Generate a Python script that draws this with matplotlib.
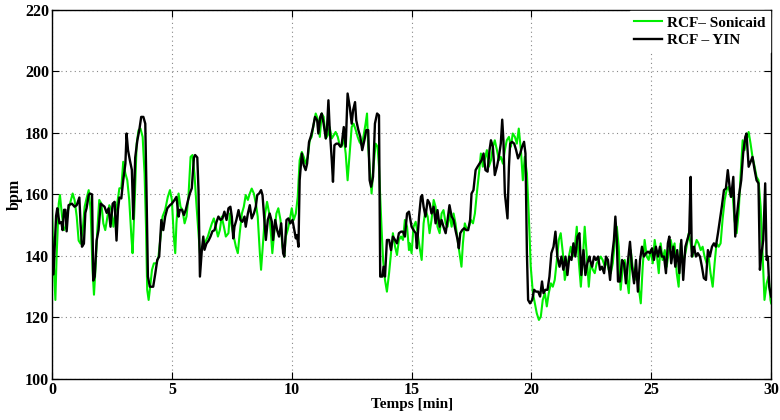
import numpy as np
import matplotlib
matplotlib.use("Agg")
import matplotlib.pyplot as plt

plt.rcParams['font.family'] = ['Liberation Serif', 'DejaVu Serif']
plt.rcParams['font.weight'] = 'bold'

# RCF - YIN (black)
t_yin = [0.00, 0.06, 0.17, 0.22, 0.31, 0.39, 0.44, 0.50, 0.56, 0.61, 0.69, 0.83, 0.94, 1.03, 1.14, 1.19, 1.25, 1.33, 1.39, 1.44,
         1.53, 1.58, 1.67, 1.72, 1.78, 1.86, 1.94, 2.03, 2.11, 2.19, 2.28, 2.36, 2.44, 2.53, 2.61, 2.69, 2.75, 2.81, 2.89, 2.97,
         3.06, 3.11, 3.17, 3.25, 3.33, 3.39, 3.47, 3.56, 3.64, 3.72, 3.81, 3.89, 3.94, 4.00, 4.08, 4.22, 4.31, 4.39, 4.47, 4.56,
         4.64, 4.72, 4.81, 4.92, 5.00, 5.11, 5.19, 5.28, 5.33, 5.42, 5.50, 5.58, 5.67, 5.75, 5.83, 5.92, 5.97, 6.06, 6.11, 6.17,
         6.25, 6.31, 6.36, 6.44, 6.53, 6.61, 6.69, 6.78, 6.86, 6.94, 7.03, 7.11, 7.19, 7.28, 7.36,
         7.44, 7.50, 7.56, 7.61, 7.69, 7.78, 7.86, 7.94, 8.03, 8.08, 8.17, 8.25, 8.33, 8.42, 8.50, 8.56, 8.64, 8.72, 8.78, 8.86,
         8.92, 9.00, 9.08, 9.17, 9.22, 9.31, 9.39, 9.47, 9.56, 9.64, 9.69, 9.78, 9.86, 9.94, 10.03, 10.08, 10.17, 10.22, 10.28, 10.33,
         10.42, 10.50, 10.58, 10.64, 10.72, 10.81, 10.89, 10.97, 11.06, 11.11, 11.19, 11.25, 11.33, 11.42, 11.47, 11.53, 11.58, 11.67, 11.72, 11.78,
         11.86, 11.94, 12.03, 12.08, 12.17, 12.25, 12.33, 12.42, 12.50, 12.56, 12.64, 12.69, 12.78, 12.86, 12.94, 13.03, 13.11, 13.19, 13.25, 13.31,
         13.39, 13.47, 13.56, 13.64, 13.69, 13.78, 13.83, 13.89, 13.97, 14.06, 14.14, 14.22, 14.31, 14.39, 14.47, 14.56, 14.64, 14.72, 14.81, 14.89,
         15.00, 15.08, 15.17, 15.22, 15.31, 15.39, 15.44, 15.50, 15.58, 15.67, 15.75, 15.83, 15.92, 16.00, 16.08, 16.17, 16.25, 16.33, 16.42, 16.50,
         16.58, 16.67, 16.75, 16.83, 16.92, 16.97, 17.03, 17.11, 17.19, 17.28, 17.36, 17.44, 17.50, 17.58, 17.67, 17.75, 17.83, 17.92, 18.00, 18.08,
         18.17, 18.25, 18.31, 18.39, 18.47, 18.56, 18.64, 18.72, 18.78, 18.83, 18.89, 18.94, 19.00, 19.06, 19.11, 19.19, 19.28, 19.36, 19.44, 19.53,
         19.61, 19.69, 19.75, 19.81, 19.86, 19.94, 20.03, 20.11, 20.19, 20.28, 20.36, 20.44, 20.50, 20.58, 20.67, 20.75, 20.83, 20.92, 21.00, 21.08,
         21.17, 21.25, 21.33, 21.42, 21.50, 21.58, 21.67, 21.75, 21.83, 21.92, 22.00, 22.08, 22.17, 22.25, 22.33, 22.42,
         22.44, 22.53, 22.61, 22.69, 22.78, 22.86, 22.94, 23.03, 23.11, 23.19, 23.28, 23.36, 23.44, 23.50, 23.56, 23.61, 23.69, 23.78, 23.86, 23.94,
         24.03, 24.11, 24.19, 24.28, 24.36, 24.44, 24.53, 24.61, 24.69, 24.78, 24.86, 24.94, 25.03, 25.11, 25.19, 25.28, 25.36, 25.44, 25.53, 25.61,
         25.69, 25.75, 25.83, 25.92, 26.00, 26.08, 26.17, 26.25, 26.33, 26.42, 26.50, 26.58, 26.64, 26.69, 26.78, 26.86, 26.94, 27.03, 27.11, 27.19,
         27.28, 27.36, 27.44, 27.53, 27.61, 27.69, 27.78, 27.86, 27.94, 28.03, 28.11, 28.19, 28.28, 28.33, 28.42, 28.50, 28.58, 28.67, 28.75, 28.83,
         28.92, 28.97, 29.06, 29.14, 29.22, 29.31, 29.39, 29.47, 29.53, 29.58, 29.67, 29.75, 29.81, 29.86, 29.92, 30.00]
bpm_yin = [146, 134, 153, 155.5, 150.6, 151, 148.4, 155, 155, 148, 156.5, 157, 156, 156.5, 159, 150.6, 143, 144, 154, 155.5,
           159.8, 160.3, 160, 132, 133.3, 145, 148.4, 157, 156.5, 156, 154, 155.5, 149.5, 157, 157.6, 145, 155, 159, 158.7, 164.6,
           170, 179.8, 174.4, 171, 168, 152, 172, 177.6, 180.9, 185.2, 185.2, 183, 161.4, 133.3, 130, 130, 134.4, 138.7, 139.8, 151.7,
           148.4, 152.8, 155.5, 156.5, 157, 158.2, 159.2, 152.8, 155, 155, 153.3, 155, 158, 160.3, 162, 172, 172.8, 172, 161.4, 133.3,
           142, 146.3, 142, 144, 145, 146.3, 148, 148.4, 151, 152.8, 151.7, 152.2, 154.4, 151.7, 155.5,
           156, 152.8, 145.7, 149.5, 151.7, 154.9, 151.7, 151.1, 152.8, 149.5, 153.8, 156.5, 152.2, 153.8, 156, 159.8, 160.3, 161.4, 159.8, 151.7,
           145.2, 151.7, 153.8, 151.1, 145.2, 151.7, 148.4, 146.3, 150.6, 140.9, 139.8, 151.7, 152.2, 150.6, 151.7, 149.5, 145.7, 146.8, 143, 164.6,
           173.3, 169.5, 167.9, 170, 177, 179.2, 181.9, 185.2, 184.1, 179.8, 185.2, 186.3, 183, 178.2, 181.4, 190.6, 181.9, 171.1, 164.1, 176,
           176.5, 176.5, 175.5, 176, 181.9, 175.5, 192.8, 188.4, 183, 187.4, 190, 184.1, 180.9, 178.7, 174.4, 177.6, 180.9, 180.9, 164.6, 162.5,
           165.7, 183, 186.3, 185.7, 133.3, 133.3, 136.5, 133.3, 145.2, 145.2, 141.9, 146.3, 145.2, 144.1, 147.4, 147.9, 147.9, 146.3, 153.8, 154.4,
           149.5, 148.4, 147.4, 142.5, 152.8, 159.2, 159.8, 156, 152.8, 158.2, 157.1, 153.8, 156, 150.6, 154.9, 149.5, 151.7, 149.5, 147.4, 151.7,
           156.5, 152.8, 151.7, 148.4, 145.2, 142.5, 147.4, 148.4, 149, 148.4, 148.4, 151.7, 160.3, 161.4, 167.9, 169, 170, 171.1, 173.3, 167.9,
           167.4, 174.4, 177.6, 175.5, 166.3, 169, 172.2, 176.5, 184.3, 177.6, 160.3, 156.5, 152.2, 169, 176.5, 177.1, 176.5, 174.4, 171.7, 173.3,
           175.5, 177.1, 173.3, 140.9, 125.7, 124.6, 125.7, 129, 128.4, 128.4, 126.8, 131.7, 127.9, 129, 129, 133.3, 140.9, 143, 147.9, 139.8,
           136.5, 139.8, 135.5, 139.8, 133.8, 139.8, 138.7, 144.1, 139.8, 146.3, 147.4, 133.8, 141.9, 133.8, 137.6, 139.8,
           138.7, 136.5, 139.8, 138.7, 139.8, 135.5, 136.5, 134.4, 139.8, 138.7, 132.2, 139.8, 145.2, 152.8, 145.2, 131.7, 131.7, 138.7, 137.6, 131.1,
           138.7, 144.6, 136.5, 131.1, 138.7, 128.4, 138.7, 143, 139.8, 140.9, 141.4, 140.9, 142.5, 138.7, 143, 139.8, 143, 139.8, 139.8, 134.4,
           144.1, 146.3, 137.6, 143, 136.5, 141.9, 134.4, 145.2, 132.2, 143, 145.2, 147.4, 165.7, 139.8, 143, 139.8, 140.9, 139.8, 136.5, 132.8,
           132.2, 141.9, 139.8, 143, 144.1, 143, 147.4, 151.7, 156, 161.4, 161.9, 167.9, 161.4, 159.2, 165.7, 146.3, 153.8, 160.3, 164.6, 173.3,
           178.7, 179.8, 169, 170.6, 172.2, 167.9, 164.6, 163.6, 135.5, 139.8, 145.2, 163.6, 138.7, 139.8, 130, 126.8]

# RCF - Sonicaid (green)
t_sonic = [0.00, 0.06, 0.14, 0.19, 0.28, 0.33, 0.42, 0.50, 0.58, 0.67, 0.75, 0.86, 0.94, 1.03, 1.11, 1.19, 1.28, 1.36, 1.44, 1.53,
           1.61, 1.69, 1.75, 1.81, 1.89, 1.97, 2.06, 2.14, 2.22, 2.31, 2.39, 2.47, 2.56, 2.64, 2.72, 2.81, 2.89, 2.97, 3.06, 3.14,
           3.22, 3.31, 3.36, 3.44, 3.53, 3.61, 3.69, 3.78, 3.86, 3.92, 3.97, 4.03, 4.08, 4.17, 4.25, 4.36, 4.44, 4.53, 4.61, 4.72,
           4.83, 4.92, 5.00, 5.08, 5.14, 5.19, 5.28, 5.36, 5.44, 5.53, 5.61, 5.69, 5.78, 5.86, 5.94, 6.03, 6.11, 6.17, 6.25, 6.33,
           6.42, 6.50, 6.58, 6.67, 6.75, 6.83, 6.92, 7.00, 7.08, 7.17, 7.25, 7.36,
           7.42, 7.50, 7.58, 7.67, 7.75, 7.83, 7.92, 8.00, 8.08, 8.17, 8.25, 8.33, 8.42, 8.50, 8.58, 8.67, 8.72, 8.81, 8.89, 8.97,
           9.06, 9.14, 9.19, 9.28, 9.36, 9.44, 9.53, 9.61, 9.69, 9.75, 9.83, 9.92, 10.00, 10.08, 10.17, 10.25, 10.33, 10.42, 10.50, 10.58,
           10.67, 10.75, 10.83, 10.92, 11.00, 11.08, 11.17, 11.25, 11.33, 11.42, 11.50, 11.58, 11.67, 11.75, 11.83, 11.92, 12.00, 12.08, 12.17, 12.25,
           12.33, 12.42, 12.50, 12.58, 12.67, 12.75, 12.83, 12.92, 13.00, 13.08, 13.14, 13.19, 13.28, 13.33, 13.42, 13.50, 13.58, 13.64, 13.69, 13.75,
           13.81, 13.89, 13.97, 14.06, 14.14, 14.22, 14.31, 14.39, 14.47, 14.56, 14.64, 14.72, 14.81, 14.89,
           14.92, 15.00, 15.08, 15.17, 15.25, 15.33, 15.42, 15.50, 15.58, 15.67, 15.75, 15.83, 15.92, 16.00, 16.08, 16.17, 16.25, 16.33, 16.42, 16.50,
           16.58, 16.67, 16.75, 16.83, 16.92, 17.00, 17.08, 17.14, 17.22, 17.31, 17.39, 17.47, 17.56, 17.64, 17.72, 17.81, 17.89, 17.97, 18.06, 18.14,
           18.22, 18.31, 18.39, 18.47, 18.56, 18.64, 18.72, 18.81, 18.89, 18.97, 19.06, 19.14, 19.22, 19.31, 19.39, 19.47, 19.56, 19.64, 19.72, 19.81,
           19.89, 19.97, 20.06, 20.14, 20.22, 20.31, 20.39, 20.47, 20.56, 20.64, 20.72, 20.81, 20.89, 20.97, 21.06, 21.14, 21.22, 21.31, 21.39, 21.47,
           21.56, 21.64, 21.72, 21.81, 21.89, 21.97, 22.06, 22.14, 22.22, 22.31, 22.39,
           22.47, 22.56, 22.64, 22.72, 22.81, 22.89, 22.97, 23.06, 23.14, 23.22, 23.31, 23.39, 23.47, 23.56, 23.64, 23.72, 23.81, 23.89, 23.97, 24.06,
           24.14, 24.22, 24.31, 24.39, 24.47, 24.56, 24.64, 24.72, 24.81, 24.89, 24.97, 25.06, 25.14, 25.22, 25.31, 25.39, 25.47, 25.56, 25.64, 25.72,
           25.81, 25.89, 25.97, 26.06, 26.14, 26.22, 26.31, 26.39, 26.47, 26.56, 26.64, 26.72, 26.81, 26.89, 26.97, 27.06, 27.14, 27.22, 27.31, 27.39,
           27.47, 27.56, 27.64, 27.72, 27.81, 27.89, 27.97, 28.06, 28.14, 28.22, 28.31, 28.39, 28.47, 28.56, 28.64, 28.72, 28.81, 28.89, 28.97, 29.06,
           29.14, 29.22, 29.31, 29.39, 29.47, 29.56, 29.64, 29.72, 29.81, 29.89, 29.97, 30.00]
bpm_sonic = [156, 139.8, 125.7, 139.8, 157, 159.8, 152.8, 148.4, 149.5, 155, 157, 160.3, 158.2, 152.8, 145, 144, 148.4, 156, 158.7, 161.4,
             155, 135.5, 127.4, 135.5, 148.4, 158.2, 157, 150.6, 148.4, 152.8, 156.5, 155, 149.5, 154, 157, 162, 162, 170.6, 166.8, 164.6,
             158.2, 146.3, 140.9, 156, 176.5, 180.9, 181.4, 178.7, 166.8, 149.5, 129, 125.7, 129, 135.5, 137.6, 137.6, 139.8, 146.3, 152.8, 155,
             159.2, 161.4, 158.2, 146.3, 140.9, 150.6, 160.3, 156, 155, 150.6, 152.8, 159.2, 172.2, 172.8, 166.8, 156, 147.4, 140.9, 142, 144,
             145, 146.3, 148.4, 150.6, 152.2, 149.5, 146.3, 148.4, 152.8, 149.5, 146.3, 147.4,
             153.8, 149.5, 146.3, 143, 140.9, 147.4, 153.8, 156, 159.8, 158.2, 160.3, 161.9, 160.3, 157.1, 152.8, 140.9, 135.5, 145.2, 153.8, 157.6,
             153.8, 146.3, 140.9, 148.4, 153.8, 155.5, 151.7, 143, 139.8, 146.3, 148.4, 151.7, 155.5, 151.7, 153.8, 159.2, 171.1, 173.8, 172.2, 170,
             172.2, 177.6, 178.7, 183, 186.3, 184.6, 178.7, 186.3, 185.2, 178.2, 179.2, 181.9, 178.2, 179.2, 180.3, 178.7, 176, 175.5, 178.2, 173.3,
             164.6, 173.8, 181.9, 183, 180.9, 178.7, 177, 176, 179.2, 183, 186.3, 175.5, 165.7, 160.3, 170, 176.5, 175.5, 169, 159.2, 148.4,
             138.7, 132.2, 128.4, 134.4, 140.9, 147.4, 143, 140.3, 145.2, 146.3, 145.2, 151.7, 149.5, 141.9,
             144.1, 140.9, 149.5, 151.1, 147.4, 143, 138.7, 150.6, 154.9, 152.8, 147.4, 151.7, 158.2, 156, 149.5, 147.4, 153.8, 154.9, 150.6, 149.5,
             153.8, 149.5, 153.8, 150.6, 145.2, 140.9, 136.5, 144.1, 150.6, 148.4, 149.5, 151.7, 150.6, 153.8, 160.3, 166.8, 173.3, 169, 171.7, 174.4,
             169, 171.1, 175.5, 177.6, 174.4, 171.1, 172.2, 170, 174.4, 177.6, 178.7, 175.5, 179.8, 178.7, 176.5, 181.4, 174.4, 164.6, 172.2, 166.8,
             152.8, 136.5, 127.9, 124.6, 121.4, 119.2, 120.3, 125.7, 127.9, 123.6, 127.9, 131.1, 130, 132.2, 138.7, 145.2, 147.4, 140.9, 132.2, 135.5,
             139.8, 143, 139.8, 143, 149.5, 138.7, 130, 138.7, 149.5, 139.8, 130,
             137.6, 135.5, 134.4, 137.6, 138.7, 139.8, 138.7, 136.5, 138.7, 135.5, 134.4, 137.6, 144.1, 149.5, 143, 129, 136.5, 138.7, 133.3, 127.9,
             141.9, 136.5, 132.2, 134.4, 130, 124.6, 136.5, 145.2, 139.8, 138.7, 141.9, 137.6, 145.2, 140.9, 134.4, 144.1, 138.7, 141.9, 136.5, 140.9,
             145.2, 141.9, 144.1, 134.4, 130, 144.1, 138.7, 139.8, 143, 147.4, 144.1, 139.8, 143, 145.2, 144.1, 141.9, 143, 139.8, 137.6, 139.8,
             134.4, 130, 137.6, 144.1, 143, 144.1, 151.7, 158.2, 161.4, 162.5, 159.2, 160.3, 151.7, 147.4, 153.8, 165.7, 177.6, 174.4, 177.6, 180.3,
             176.5, 172.2, 169, 165.7, 164.6, 156, 140.9, 125.7, 131.1, 133.3, 125.7, 124.6]

x_ticks = [0, 5, 10, 15, 20, 25, 30]
y_ticks = [100, 120, 140, 160, 180, 200, 220]

fig = plt.figure(figsize=(7.8, 4.2), dpi=100)
ax = fig.add_axes([0.0667, 0.0976, 0.922, 0.879])

ax.plot(t_sonic, bpm_sonic, color='#00ee00', linewidth=1.5, label='RCF– Sonicaid')
ax.plot(t_yin, bpm_yin, color='black', linewidth=1.7, label='RCF – YIN')

ax.set_xlim(0, 30)
ax.set_ylim(100, 220)
ax.set_xticks(x_ticks)
ax.set_yticks(y_ticks)
ax.tick_params(direction='in', top=True, right=True, labelsize=11.5, length=5, pad=2)
for lab in ax.get_xticklabels() + ax.get_yticklabels():
    lab.set_fontweight('bold')
ax.grid(True, linestyle=(0, (1, 3)), color='#888888', linewidth=0.8)
for sp in ax.spines.values():
    sp.set_linewidth(1.0)

ax.set_xlabel('Temps [min]', fontsize=11, fontweight='bold', labelpad=0)
ax.set_ylabel('bpm', fontsize=11.5, fontweight='bold', labelpad=2)

leg = ax.legend(loc='upper right', fontsize=11, frameon=True, fancybox=False,
                handlelength=1.8, handletextpad=0.3, borderpad=0.3, labelspacing=0.25,
                borderaxespad=0.1)
leg.get_frame().set_edgecolor('white')
leg.get_frame().set_facecolor('white')
leg.get_frame().set_alpha(1.0)
for txt in leg.get_texts():
    txt.set_fontweight('bold')

fig.savefig('out.png', dpi=100)
